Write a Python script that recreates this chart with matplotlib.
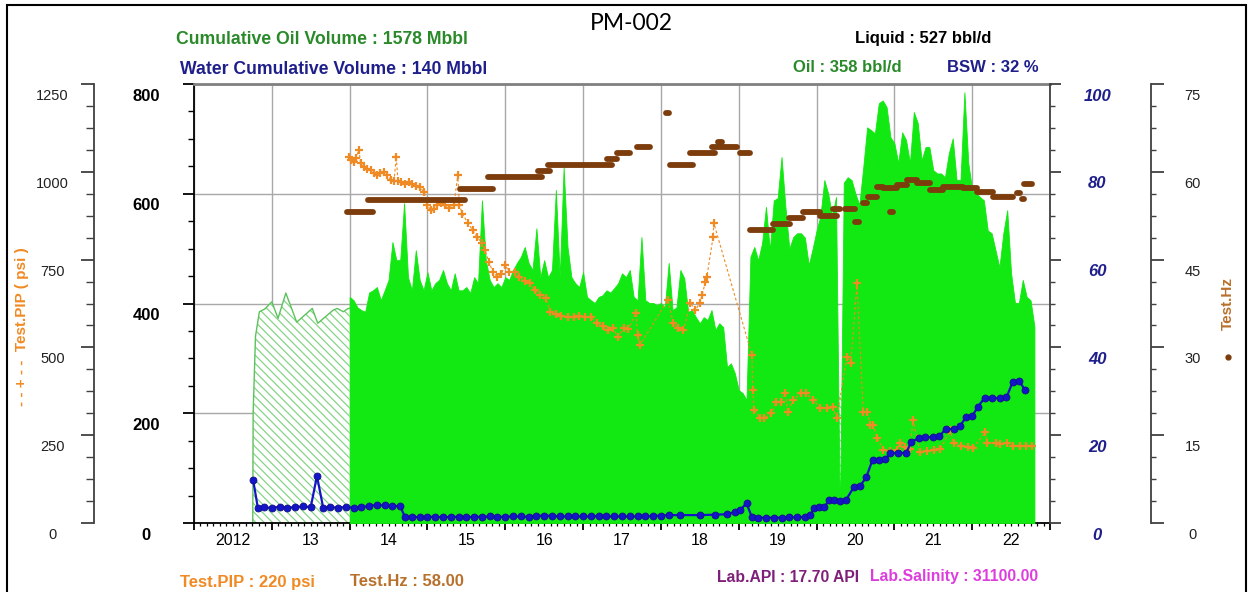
import numpy as np
import matplotlib
matplotlib.use('Agg')
from matplotlib import pyplot as plt
from matplotlib.ticker import FixedLocator, MultipleLocator, NullFormatter, FixedFormatter
from matplotlib.patches import Rectangle
from matplotlib.lines import Line2D
import matplotlib.transforms as mtransforms

plt.rcParams['font.family'] = ['Liberation Sans', 'DejaVu Sans']
plt.rcParams['hatch.linewidth'] = 0.9
plt.rcParams['hatch.color'] = '#86d486'

# ---- data ----
# allocated oil rate (hatched), bbl/d
alloc_year = [2012.755, 2012.76, 2012.79, 2012.84, 2012.91, 2013.00, 2013.08, 2013.18,
              2013.32, 2013.52, 2013.59, 2013.79, 2013.84, 2013.92, 2013.98, 2014.0]
alloc_rate = [0, 200, 340, 385, 390, 403, 373, 419, 366, 391, 364, 388, 391, 385, 391, 391]
# short stretch only visible where daily data is missing
alloc_gap_year = [2020.26, 2020.36]
alloc_gap_rate = [237, 237]

# daily oil rate, bbl/d, one value every 0.05 yr from 2014.0
rate_start, rate_step = 2014.0, 0.05
oil_rate = [
    412, 406, 393, 388, 385, 420, 424, 430, 406, 424, 443, 512, 479, 479, 583, 448, 424, 497, 443, 424,
    457, 424, 437, 443, 461, 437, 424, 455, 424, 424, 430, 419, 448, 437, 588, 479, 443, 430, 437, 430,
    448, 443, 461, 474, 485, 503, 474, 461, 537, 448, 479, 448, 461, 607, 448, 648, 503, 448, 437, 430,
    457, 412, 406, 401, 412, 415, 424, 420, 428, 437, 455, 448, 461, 412, 406, 521, 406, 401, 401, 397,
    401, 393, 474, 388, 393, 461, 446, 385, 388, 375, 364, 375, 370, 388, 352, 364,
    357, 284, 291, 273, 242, 237, 224, 485, 503, 479, 510, 576, 497, 588, 592, 667, 576, 500, 521,
    528, 528, 520, 470, 500, 533, 560, 625, 600, 560, 594, 0, 620, 630, 625, 600, 580, 648, 721, 716,
    710, 765, 770, 758, 703, 692, 656, 712, 698, 656, 749, 729, 661, 685, 685, 643, 637, 637, 630, 674,
    701, 625, 625, 785, 656, 607, 601, 594, 588, 533, 528, 497, 466, 528, 570, 455, 401, 401, 443, 412,
    406, 358]

# water cut, %
bsw_year = [2012.76, 2012.82, 2012.90, 2013.00, 2013.10, 2013.20, 2013.30, 2013.40, 2013.50, 2013.58,
            2013.66, 2013.75, 2013.85, 2013.95, 2014.05, 2014.15, 2014.25, 2014.35, 2014.45, 2014.55,
            2014.65, 2014.71, 2014.80, 2014.90, 2015.00, 2015.10, 2015.20, 2015.30, 2015.40, 2015.50,
            2015.60, 2015.70, 2015.80, 2015.90, 2016.00, 2016.10, 2016.20, 2016.30, 2016.40, 2016.50,
            2016.60, 2016.70, 2016.80, 2016.90, 2017.00, 2017.10, 2017.20, 2017.30, 2017.40, 2017.50,
            2017.60, 2017.70, 2017.80, 2017.90, 2018.00, 2018.10, 2018.25, 2018.50, 2018.70, 2018.85,
            2018.95, 2019.02, 2019.10, 2019.17, 2019.25, 2019.35, 2019.45, 2019.55, 2019.65, 2019.75,
            2019.85, 2019.92, 2019.97, 2020.03, 2020.10, 2020.16, 2020.22, 2020.30, 2020.38, 2020.48,
            2020.56, 2020.64, 2020.72, 2020.80, 2020.88, 2020.95, 2021.05, 2021.15, 2021.22, 2021.32,
            2021.40, 2021.50, 2021.58, 2021.66, 2021.76, 2021.84, 2021.92, 2022.00, 2022.07, 2022.16,
            2022.26, 2022.36, 2022.44, 2022.52, 2022.60, 2022.68]
bsw_pct = [9.8, 3.5, 3.6, 3.4, 3.7, 3.5, 3.6, 3.8, 3.6, 10.7,
           3.5, 3.6, 3.5, 3.6, 3.5, 3.6, 3.9, 4.1, 4.0, 3.9,
           3.8, 1.4, 1.4, 1.3, 1.4, 1.4, 1.3, 1.4, 1.4, 1.3,
           1.4, 1.4, 1.5, 1.4, 1.4, 1.5, 1.5, 1.4, 1.6, 1.7,
           1.6, 1.5, 1.5, 1.5, 1.5, 1.5, 1.6, 1.5, 1.5, 1.5,
           1.5, 1.5, 1.5, 1.6, 1.7, 1.8, 1.8, 1.8, 1.9, 2.0,
           2.5, 3.0, 4.5, 1.3, 1.2, 1.2, 1.2, 1.2, 1.3, 1.3,
           1.4, 1.8, 3.4, 3.6, 3.6, 5.2, 5.2, 5.1, 5.3, 8.2,
           8.4, 10.5, 14.4, 14.4, 14.6, 15.9, 15.9, 16.0, 18.5, 19.4,
           19.5, 19.6, 19.8, 21.4, 21.4, 22.0, 24.1, 24.3, 26.4, 28.5,
           28.5, 28.4, 28.6, 32.1, 32.4, 30.3]

# pump intake pressure tests, psi
pip_year = [2013.99, 2014.02, 2014.05, 2014.08, 2014.12, 2014.14, 2014.18, 2014.22, 2014.27, 2014.31,
            2014.35, 2014.39, 2014.44, 2014.48, 2014.53, 2014.57, 2014.60, 2014.62, 2014.66, 2014.71,
            2014.76, 2014.80, 2014.85, 2014.90, 2014.96, 2015.00, 2015.04, 2015.08, 2015.12, 2015.17,
            2015.22, 2015.28, 2015.34, 2015.39, 2015.41, 2015.45, 2015.52, 2015.58, 2015.64, 2015.70,
            2015.74, 2015.79, 2015.84, 2015.90, 2015.95, 2016.00, 2016.05, 2016.12, 2016.18, 2016.25,
            2016.32, 2016.38, 2016.45, 2016.52, 2016.58, 2016.65, 2016.72, 2016.80, 2016.88, 2016.95,
            2017.03, 2017.10, 2017.18, 2017.25, 2017.32, 2017.38, 2017.45, 2017.52, 2017.58, 2017.68,
            2017.70, 2017.73, 2018.09, 2018.16, 2018.22, 2018.29, 2018.38, 2018.44, 2018.50, 2018.53,
            2018.57, 2018.59, 2018.67, 2018.68, 2019.17, 2019.18, 2019.20, 2019.27, 2019.33, 2019.42,
            2019.48, 2019.54, 2019.60, 2019.63, 2019.70, 2019.80, 2019.86, 2019.96, 2020.05, 2020.14,
            2020.21, 2020.26, 2020.39, 2020.44, 2020.52, 2020.60, 2020.65, 2020.69, 2020.73, 2020.78,
            2020.86, 2020.95, 2021.04, 2021.07, 2021.14, 2021.20, 2021.24, 2021.33, 2021.42, 2021.51,
            2021.59, 2021.72, 2021.76, 2021.85, 2021.94, 2022.01, 2022.17, 2022.19, 2022.30, 2022.36,
            2022.45, 2022.53, 2022.62, 2022.69, 2022.77]
pip_psi = [1042, 1035, 1028, 1040, 1062, 1025, 1013, 1008, 1005, 997,
           990, 997, 1000, 992, 977, 975, 1042, 975, 972, 965,
           970, 965, 960, 957, 942, 905, 891, 895, 905, 910,
           905, 898, 905, 991, 905, 880, 854, 834, 814, 797,
           777, 743, 715, 700, 710, 734, 715, 715, 700, 690,
           683, 663, 650, 640, 600, 595, 590, 586, 586, 590,
           586, 586, 569, 560, 549, 555, 530, 555, 552, 598,
           535, 507, 635, 569, 555, 549, 626, 606, 626, 649,
           686, 700, 814, 854, 478, 379, 322, 299, 299, 313,
           344, 344, 370, 316, 350, 370, 370, 350, 327, 327,
           330, 299, 473, 455, 683, 316, 316, 279, 279, 242,
           208, 205, 208, 228, 215, 210, 293, 202, 205, 208,
           210, 265, 228, 220, 216, 213, 259, 228, 228, 226,
           228, 219, 219, 219, 220]

# pump frequency, held over periods: start, end, Hz
hz_start = [2013.97, 2014.24, 2015.42, 2015.78, 2016.42, 2016.55, 2017.31, 2017.44, 2017.69, 2018.07,
            2018.12, 2018.38, 2018.66, 2018.74, 2019.02, 2019.15, 2019.44, 2019.64, 2019.82, 2020.05,
            2020.21, 2020.37, 2020.50, 2020.60, 2020.66, 2020.78, 2020.86, 2020.94, 2021.04, 2021.16,
            2021.29, 2021.46, 2021.63, 2021.88, 2022.06, 2022.27, 2022.58, 2022.64, 2022.66]
hz_end = [2014.30, 2015.48, 2015.84, 2016.47, 2016.58, 2017.37, 2017.44, 2017.60, 2017.86, 2018.11,
          2018.41, 2018.70, 2018.98, 2018.78, 2019.15, 2019.44, 2019.66, 2019.82, 2020.05, 2020.26,
          2020.30, 2020.50, 2020.54, 2020.65, 2020.78, 2020.86, 2021.04, 2020.98, 2021.16, 2021.29,
          2021.46, 2021.63, 2021.88, 2022.06, 2022.27, 2022.53, 2022.62, 2022.67, 2022.77]
hz_val = [53.1, 55.2, 57.0, 59.1, 60.1, 61.1, 62.2, 63.2, 64.2, 70.0,
          61.1, 63.2, 64.2, 65.1, 63.2, 50.0, 51.1, 52.1, 53.1, 52.4,
          53.6, 53.6, 51.4, 54.7, 55.7, 57.4, 57.2, 53.1, 57.7, 58.6,
          58.1, 56.9, 57.4, 57.2, 56.5, 55.7, 56.4, 55.3, 58.0]

year_labels = ['2012', '13', '14', '15', '16', '17', '18', '19', '20', '21', '22']
liquid_rate = 527
cum_oil, cum_water = 1578, 140
lab_api, lab_salinity = 17.70, 31100.00

# ---- colours ----
GREEN = '#12e812'
HATCH_EDGE = '#5cc25c'
BLUE = '#1414c8'
NAVY = '#1f1f8c'
ORANGE = '#f08a24'
BROWN = '#7c3c0c'
HZ_TXT = '#b8712c'
TXT_GREEN = '#2a8a2a'

W, H = 1252, 592
fig = plt.figure(figsize=(W / 100, H / 100), dpi=100)


def fx(x):
    return x / W


def fy(y):
    return 1 - y / H


ax = fig.add_axes([fx(194), fy(523), 856 / W, 439 / H])
ax.set_xlim(2012, 2023)
ax.set_ylim(0, 800)

# oil rates
ax.fill_between(alloc_year, alloc_rate, facecolor='white', edgecolor='#86d486',
                hatch='\\\\\\\\', linewidth=0, zorder=2)
ax.plot(alloc_year, alloc_rate, color=HATCH_EDGE, lw=1, zorder=2.1)
ax.fill_between(alloc_gap_year, alloc_gap_rate, facecolor='white', edgecolor='#86d486',
                hatch='\\\\\\\\', linewidth=0, zorder=2)
rate_year = rate_start + rate_step * np.arange(len(oil_rate))
rate = np.array(oil_rate, dtype=float)
ax.fill_between(rate_year, rate, color=GREEN, lw=0.6, edgecolor=GREEN, zorder=3)

ax.grid(True, which='major', color='#a8a8a8', lw=1)
ax.set_axisbelow(True)

ax.yaxis.set_major_locator(FixedLocator([0, 200, 400, 600, 800]))
ax.yaxis.set_minor_locator(MultipleLocator(50))
ax.tick_params(axis='y', which='major', direction='out', length=8, width=1.3,
               labelsize=12, pad=26.5, colors='black')
ax.tick_params(axis='y', which='minor', direction='out', length=4.3, width=1)
for lab in ax.get_yticklabels():
    lab.set_fontweight('bold')
    lab.set_ha('center')

ax.xaxis.set_major_locator(FixedLocator(range(2012, 2024)))
ax.xaxis.set_major_formatter(NullFormatter())
month_ticks, month_labels = [], []
for k, yr in enumerate(range(2012, 2023)):
    for m in range(1, 12):
        month_ticks.append(yr + m / 12)
        month_labels.append(year_labels[k] if m == 6 else '')
ax.xaxis.set_minor_locator(FixedLocator(month_ticks))
ax.xaxis.set_minor_formatter(FixedFormatter(month_labels))
ax.tick_params(axis='x', which='major', direction='out', length=5, width=1.3)
ax.tick_params(axis='x', which='minor', direction='out', length=2.2, width=0.9,
               labelsize=11.5, pad=5)

ax.spines['right'].set_visible(False)
ax.spines['top'].set_color('#808080')
ax.spines['top'].set_linewidth(2)
ax.spines['left'].set_linewidth(1.3)
ax.spines['bottom'].set_linewidth(1.3)

# pump intake pressure, outer left scale
ax_pip = ax.twinx()
ax_pip.set_ylim(0, 1250)
ax_pip.yaxis.set_ticks_position('left')
for s in ['right', 'top', 'bottom']:
    ax_pip.spines[s].set_visible(False)
ax_pip.spines['left'].set_position(('axes', (94 - 194) / 856))
ax_pip.spines['left'].set_color('#404040')
ax_pip.spines['left'].set_linewidth(1.3)
ax_pip.yaxis.set_major_locator(FixedLocator([0, 250, 500, 750, 1000, 1250]))
ax_pip.yaxis.set_minor_locator(MultipleLocator(62.5))
ax_pip.tick_params(axis='y', which='major', direction='out', length=9.4, width=1.3,
                   color='#404040', labelsize=10.5, labelcolor='#222222', pad=20.5)
ax_pip.tick_params(axis='y', which='minor', direction='out', length=5.5, width=1,
                   color='#404040')
for lab in ax_pip.get_yticklabels():
    lab.set_ha('center')
ax_pip.plot(pip_year, pip_psi, color=ORANGE, ls=(0, (2.5, 2)), lw=0.8,
            marker='+', ms=6, mew=1.6, zorder=4)

# pump frequency, outer right scale
ax_hz = ax.twinx()
ax_hz.set_ylim(0, 75)
for s in ['left', 'top', 'bottom']:
    ax_hz.spines[s].set_visible(False)
ax_hz.spines['right'].set_position(('axes', (1151 - 194) / 856))
ax_hz.spines['right'].set_color('#404040')
ax_hz.spines['right'].set_linewidth(1.3)
ax_hz.yaxis.set_major_locator(FixedLocator([0, 15, 30, 45, 60, 75]))
ax_hz.yaxis.set_minor_locator(MultipleLocator(3.75))
ax_hz.tick_params(axis='y', which='major', direction='out', length=9.4, width=1.3,
                  color='#404040', labelsize=10.5, labelcolor='#222222', pad=20.5)
ax_hz.tick_params(axis='y', which='minor', direction='out', length=3.6, width=1,
                  color='#404040')
for lab in ax_hz.get_yticklabels():
    lab.set_ha('center')
ax_hz.hlines(hz_val, hz_start, hz_end, color=BROWN, lw=4.2, capstyle='round', zorder=4)

# water cut, inner right scale
ax_bsw = ax.twinx()
ax_bsw.set_ylim(0, 100)
for s in ['left', 'top', 'bottom']:
    ax_bsw.spines[s].set_visible(False)
ax_bsw.spines['right'].set_color('#404040')
ax_bsw.spines['right'].set_linewidth(1.3)
ax_bsw.yaxis.set_major_locator(FixedLocator([0, 20, 40, 60, 80, 100]))
ax_bsw.yaxis.set_minor_locator(MultipleLocator(5))
ax_bsw.tick_params(axis='y', which='major', direction='out', length=8, width=1.3,
                   color='#404040', labelsize=12, labelcolor=NAVY, pad=26)
ax_bsw.tick_params(axis='y', which='minor', direction='out', length=3.6, width=1,
                   color='#404040')
for lab in ax_bsw.get_yticklabels():
    lab.set_ha('center')
    lab.set_fontweight('bold')
    lab.set_fontstyle('italic')
ax_bsw.plot(bsw_year, bsw_pct, color=BLUE, lw=1.6, marker='o', ms=5,
            mfc=BLUE, mec='#10108a', mew=0.6, zorder=5)

# value labels sit a little below their ticks
drop = mtransforms.ScaledTranslation(0, -0.105, fig.dpi_scale_trans)
for a in (ax, ax_pip, ax_hz, ax_bsw):
    for lab in a.get_yticklabels():
        lab.set_transform(lab.get_transform() + drop)

# axis titles
fig.text(fx(22), fy(327), '- - + - -  Test.PIP ( psi )', rotation=90, color=ORANGE,
         fontsize=11, fontweight='bold', ha='center', va='center')
fig.text(fx(1228), fy(303), 'Test.Hz', rotation=90, color=HZ_TXT,
         fontsize=11, fontweight='bold', ha='center', va='center')
fig.add_artist(Line2D([fx(1228)], [fy(357)], marker='o', ms=3.5, color=BROWN,
                      transform=fig.transFigure))

# header and footer
fig.text(fx(631), fy(23), 'PM-002', family='Lato', fontsize=16.5, ha='center', va='center')
hdr = dict(fontsize=12, fontweight='bold', va='center', ha='left')
big = dict(hdr, fontsize=12.7)
lab = dict(hdr, fontsize=11.3)
fig.text(fx(176), fy(39), f'Cumulative Oil Volume : {cum_oil} Mbbl', color=TXT_GREEN, **big)
fig.text(fx(180), fy(69), f'Water Cumulative Volume : {cum_water} Mbbl', color=NAVY, **big)
fig.text(fx(855), fy(38), f'Liquid : {liquid_rate} bbl/d', color='black', **hdr)
fig.text(fx(793), fy(67), f'Oil : {oil_rate[-1]} bbl/d', color=TXT_GREEN, **hdr)
fig.text(fx(947), fy(68), f'BSW : {round(100 * (1 - oil_rate[-1] / liquid_rate))} %',
         color=NAVY, **hdr)
fig.text(fx(180), fy(583), f'Test.PIP : {pip_psi[-1]} psi', color=ORANGE, **hdr)
fig.text(fx(350), fy(582), f'Test.Hz : {hz_val[-1]:.2f}', color=HZ_TXT, **hdr)
fig.text(fx(717), fy(577), f'Lab.API : {lab_api:.2f} API', color='#7e1f7a', **lab)
fig.text(fx(870), fy(577), f'Lab.Salinity : {lab_salinity:.2f}', color='#dd3ddd', **lab)

# outer frame
fig.add_artist(Rectangle((fx(7), -0.02), fx(1246) - fx(7), fy(5) + 0.02, fill=False,
                         edgecolor='black', lw=1.5, transform=fig.transFigure))

fig.savefig('out.png', dpi=100)
